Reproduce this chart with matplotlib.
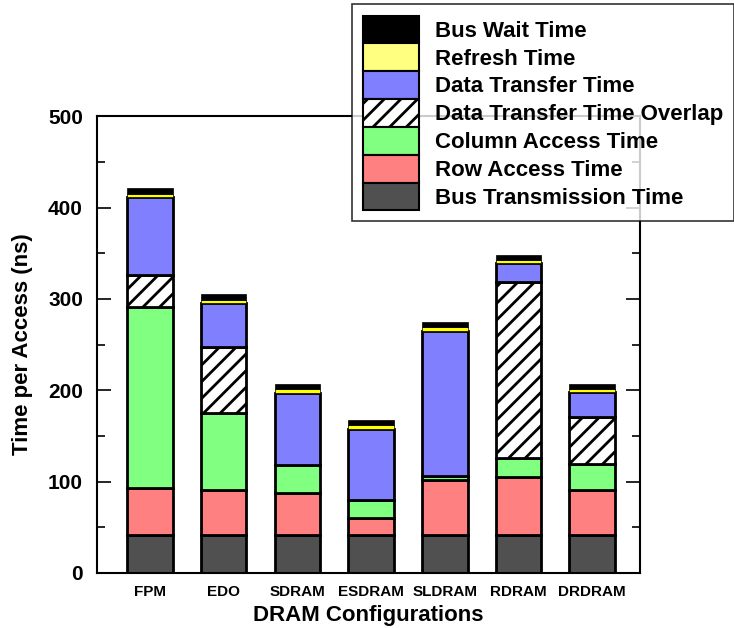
import numpy as np
import matplotlib.pyplot as plt
from matplotlib.patches import Patch
from matplotlib.ticker import MultipleLocator

plt.rcParams['font.family'] = ['Liberation Sans', 'DejaVu Sans']
plt.rcParams['font.weight'] = 'bold'
plt.rcParams['hatch.linewidth'] = 2.0

configs = ["FPM", "EDO", "SDRAM", "ESDRAM", "SLDRAM", "RDRAM", "DRDRAM"]
bus_transmission = [42, 42, 42, 42, 42, 42, 42]
row_access = [51, 49, 46, 18, 60, 63, 49]
column_access = [198, 84, 30, 20, 4, 21, 28]
transfer_overlap = [35, 72, 0, 0, 0, 192, 52]
data_transfer = [85, 48, 79, 78, 159, 21, 27]
refresh = [4, 4, 4, 4, 4.5, 3.5, 3]
bus_wait = [6, 6, 5.5, 5.5, 5.5, 6, 5.5]

layers = [
    ("Bus Transmission Time", bus_transmission, "#505050", ""),
    ("Row Access Time", row_access, "#ff8080", ""),
    ("Column Access Time", column_access, "#80ff80", ""),
    ("Data Transfer Time Overlap", transfer_overlap, "white", "//"),
    ("Data Transfer Time", data_transfer, "#8080ff", ""),
    ("Refresh Time", refresh, "#ffff00", ""),
    ("Bus Wait Time", bus_wait, "black", ""),
]

fig = plt.figure(figsize=(7.34, 6.28), dpi=100)
ax = fig.add_axes([0.132, 0.0876, 0.74, 0.7274])

x = np.arange(len(configs))
bottom = np.zeros(len(configs))
for name, vals, fc, hatch in layers:
    vals = np.array(vals, dtype=float)
    lw = 0.5 if name in ("Refresh Time", "Bus Wait Time") else 2
    ax.bar(x, vals, width=0.62, bottom=bottom, color=fc, edgecolor="black",
           linewidth=lw, hatch=hatch, zorder=2)
    bottom += vals

ax.set_xlim(-0.72, 6.65)
ax.set_ylim(0, 500)
ax.set_xticks(x)
ax.set_xticklabels(configs, fontsize=11, fontweight='bold')
ax.tick_params(axis='x', length=0, pad=9)
ax.yaxis.set_major_locator(MultipleLocator(100))
ax.yaxis.set_minor_locator(MultipleLocator(50))
ax.tick_params(axis='y', which='major', direction='in', length=10, width=1.2,
               right=True, labelsize=15, pad=10)
ax.tick_params(axis='y', which='minor', direction='in', length=6, width=1.2,
               right=True)
for s in ax.spines.values():
    s.set_linewidth(1.5)

ax.set_xlabel("DRAM Configurations", fontsize=16, fontweight='bold', labelpad=4)
ax.set_ylabel("Time per Access (ns)", fontsize=16, fontweight='bold', labelpad=11)

legend_colors = {"Refresh Time": "#ffff80"}
handles = []
for name, vals, fc, hatch in reversed(layers):
    handles.append(Patch(facecolor=legend_colors.get(name, fc), edgecolor="black",
                         linewidth=1.5, hatch=hatch, label=name))
leg = fig.legend(handles=handles, loc='upper left', bbox_to_anchor=(0.479, 0.993),
                 fontsize=16, frameon=True, fancybox=False, edgecolor='black',
                 handlelength=2.55, handleheight=1.55, labelspacing=0.0,
                 handletextpad=0.7, borderpad=0.5, borderaxespad=0)
leg.get_frame().set_linewidth(1.2)
leg.set_zorder(5)

fig.savefig("out.png", dpi=100)
